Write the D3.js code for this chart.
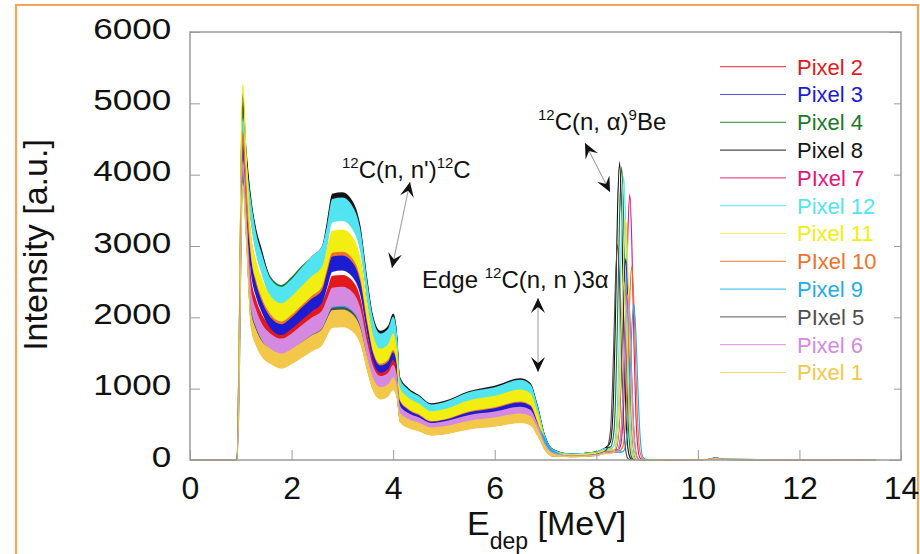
<!DOCTYPE html>
<html>
<head>
<meta charset="utf-8">
<script src="https://cdn.jsdelivr.net/npm/d3@7"></script>
<style>
  body { margin: 0; background: #fff; }
  svg { display: block; font-family: "Liberation Sans", Arial, sans-serif; }
</style>
</head>
<body>
<svg id="chart" width="920" height="554"></svg>
<script>
// deposited energy grid (MeV), shared by every pixel
var energy = [0, 0.92, 0.97, 1.01, 1.04, 1.1,
  1.2, 1.3, 1.4, 1.6, 1.8, 2.0, 2.2, 2.4, 2.6, 2.7, 2.8, 3.0, 3.2, 3.35, 3.5, 3.6, 3.75, 3.9, 4.0, 4.07,
  4.13, 4.3, 4.5, 4.75, 5.0, 5.5, 6.0, 6.5, 6.7, 6.85, 7.0, 7.15, 7.5, 8.0,
  8.2, 8.28, 8.34, 8.38, 8.42, 8.46, 8.50, 8.54, 8.58, 8.62, 8.66, 8.70, 8.74, 8.78, 8.82, 8.86, 8.92, 9.0, 9.15,
  9.5, 10.2, 10.35, 10.5, 11.5, 13.5];

// intensity per pixel [a.u.]
var pixel2 = [0, 0, 1400, 3700, 4350, 3600,
  2430, 2125, 1945, 1745, 1675, 1750, 1870, 1975, 2085, 2260, 2445, 2455, 2375, 2160, 1620, 1315, 1160, 1210, 1325, 1180,
  745, 635, 575, 495, 515, 610, 655, 720, 680, 475, 196, 84, 57, 78,
  120, 120, 120, 122, 140, 228, 537, 1237, 2089, 2450, 2009, 1127, 417, 108, 20, 8, 6, 4, 3,
  3, 6, 20, 6, 3, 1];
var pixel3 = [0, 0, 1450, 3750, 4400, 3700,
  2770, 2425, 2220, 1955, 1875, 1965, 2090, 2215, 2335, 2555, 2785, 2805, 2710, 2465, 1850, 1500, 1325, 1380, 1510, 1350,
  845, 725, 655, 560, 585, 695, 745, 825, 780, 540, 223, 96, 65, 89,
  130, 130, 132, 152, 253, 606, 1408, 2386, 2800, 2296, 1288, 476, 123, 22, 9, 7, 5, 4, 3,
  3, 6, 22, 7, 3, 1];
var pixel4 = [0, 0, 1700, 4200, 4950, 4200,
  3510, 3070, 2810, 2420, 2320, 2430, 2580, 2700, 2830, 3170, 3530, 3550, 3430, 3120, 2340, 1900, 1680, 1745, 1910, 1705,
  1070, 915, 830, 710, 740, 875, 945, 1045, 985, 680, 283, 122, 83, 112,
  170, 182, 350, 864, 2037, 3466, 4080, 3346, 1877, 694, 180, 33, 10, 8, 7, 6, 5, 4, 3,
  4, 8, 28, 9, 4, 2];
var pixel8 = [0, 0, 1800, 4300, 5100, 4300,
  3545, 3100, 2840, 2395, 2295, 2405, 2560, 2710, 2855, 3200, 3565, 3585, 3465, 3150, 2365, 1920, 1695, 1765, 1930, 1725,
  1085, 925, 835, 720, 750, 885, 955, 1055, 995, 690, 285, 123, 84, 113,
  180, 260, 886, 2090, 3550, 4150, 3403, 1909, 706, 183, 43, 10, 8, 8, 6, 5, 5, 4, 3,
  4, 8, 30, 10, 4, 2];
var pixel7 = [0, 0, 1500, 3900, 4600, 3900,
  3005, 2630, 2405, 2130, 2040, 2135, 2280, 2410, 2540, 2800, 3025, 3040, 2940, 2670, 2005, 1630, 1435, 1495, 1635, 1460,
  920, 785, 710, 610, 635, 750, 810, 895, 845, 585, 242, 104, 71, 96,
  140, 140, 140, 140, 144, 170, 303, 769, 1832, 3134, 3700, 3034, 1702, 629, 163, 30, 8, 5, 3,
  3, 7, 24, 8, 3, 1];
var pixel12 = [0, 0, 1650, 4000, 4750, 4100,
  3475, 3040, 2780, 2390, 2295, 2400, 2560, 2710, 2855, 3135, 3495, 3515, 3395, 3090, 2315, 1880, 1660, 1725, 1890, 1690,
  1060, 905, 820, 705, 735, 870, 935, 1035, 975, 675, 280, 121, 82, 111,
  160, 160, 192, 334, 832, 1967, 3339, 3950, 3239, 1817, 672, 174, 32, 12, 9, 8, 6, 5, 4,
  4, 8, 28, 9, 4, 2];
var pixel11 = [0, 0, 1900, 4500, 5250, 4300,
  3040, 2660, 2435, 2160, 2070, 2165, 2305, 2440, 2575, 2830, 3060, 3075, 2975, 2705, 2030, 1650, 1455, 1515, 1655, 1480,
  930, 795, 720, 615, 640, 760, 820, 905, 855, 590, 245, 106, 72, 97,
  140, 140, 143, 167, 287, 710, 1671, 2847, 3350, 2747, 1541, 570, 147, 27, 10, 8, 6, 5, 3,
  3, 7, 24, 8, 3, 1];
var pixel10 = [0, 0, 1500, 3850, 4550, 3850,
  2990, 2615, 2390, 2115, 2030, 2125, 2270, 2400, 2525, 2780, 3005, 3020, 2920, 2655, 1990, 1620, 1430, 1485, 1625, 1455,
  915, 780, 705, 605, 630, 745, 805, 890, 840, 580, 241, 104, 71, 95,
  130, 130, 130, 130, 130, 133, 152, 249, 589, 1362, 2304, 2700, 2214, 1242, 459, 119, 15, 5, 3,
  3, 7, 24, 8, 3, 1];
var pixel9 = [0, 0, 1000, 3300, 3950, 3300,
  2180, 1905, 1740, 1590, 1525, 1595, 1700, 1800, 1895, 2045, 2190, 2200, 2130, 1935, 1450, 1180, 1040, 1085, 1185, 1060,
  665, 570, 515, 440, 460, 545, 585, 645, 610, 440, 260, 110, 51, 70,
  110, 110, 110, 110, 110, 110, 112, 127, 205, 479, 1098, 1849, 2170, 1779, 998, 369, 41, 6, 3,
  3, 6, 20, 6, 3, 1];
var pixel5 = [0, 0, 1300, 3450, 4050, 3350,
  2000, 1750, 1600, 1465, 1405, 1470, 1570, 1655, 1745, 1885, 2010, 2020, 1955, 1775, 1330, 1080, 955, 995, 1090, 970,
  610, 520, 470, 405, 420, 500, 540, 595, 560, 390, 161, 69, 47, 64,
  143, 416, 1520, 2560, 3000, 2460, 1380, 510, 132, 24, 8, 6, 5, 5, 4, 4, 3, 3, 2,
  3, 6, 20, 6, 3, 1];
var pixel6 = [0, 0, 1100, 3500, 4150, 3450,
  2270, 1985, 1815, 1650, 1590, 1660, 1770, 1875, 1970, 2130, 2280, 2295, 2220, 2015, 1510, 1230, 1085, 1130, 1235, 1105,
  695, 590, 535, 460, 480, 565, 610, 675, 635, 440, 183, 79, 54, 72,
  110, 110, 110, 112, 128, 211, 501, 1158, 1956, 2300, 1886, 1058, 391, 101, 18, 7, 5, 4, 2,
  3, 6, 20, 6, 3, 1];
var pixel1 = [0, 0, 1200, 3300, 3850, 3250,
  1960, 1715, 1570, 1445, 1385, 1450, 1540, 1635, 1720, 1860, 1975, 1985, 1920, 1745, 1310, 1065, 935, 975, 1070, 955,
  600, 510, 465, 400, 415, 490, 530, 585, 550, 380, 158, 68, 46, 63,
  90, 90, 110, 200, 515, 1230, 2110, 2500, 2050, 1150, 425, 110, 20, 8, 6, 5, 4, 3, 2,
  3, 6, 18, 6, 3, 1];

var xTicks = [0, 2, 4, 6, 8, 10, 12, 14];
var yTicks = [0, 1000, 2000, 3000, 4000, 5000, 6000];

// legend order (as in the figure)
var legendNames = ["Pixel 2", "Pixel 3", "Pixel 4", "Pixel 8", "PIxel 7", "Pixel 12",
                   "Pixel 11", "PIxel 10", "Pixel 9", "PIxel 5", "Pixel 6", "Pixel 1"];
var legendValues = [pixel2, pixel3, pixel4, pixel8, pixel7, pixel12,
                    pixel11, pixel10, pixel9, pixel5, pixel6, pixel1];
var legendColors = ["#e3191c", "#1c1cd2", "#1b7a26", "#141414", "#e2167c", "#52e4f0",
                    "#f2ee12", "#f0712a", "#22ace6", "#4e4e4e", "#d48ae0", "#f3c84a"];
// painting order so the bands overlap like in the figure
var drawOrder = [4, 0, 2, 3, 5, 1, 7, 6, 8, 9, 10, 11];

var svg = d3.select("#chart"),
    margin = {top: 32, right: 19, bottom: 94, left: 190},
    width = 920 - margin.left - margin.right,
    height = 554 - margin.top - margin.bottom;

var x = d3.scaleLinear().domain([0, 14]).range([0, width]),
    y = d3.scaleLinear().domain([0, 6000]).range([height, 0]);

// orange slide border
svg.append("path")
    .attr("d", "M16,554V5H918V554")
    .attr("fill", "none")
    .attr("stroke", "#f6a457")
    .attr("stroke-width", 2.2);

var g = svg.append("g")
    .attr("transform", "translate(" + margin.left + "," + margin.top + ")");

g.append("clipPath").attr("id", "clip")
  .append("rect").attr("width", width).attr("height", height + 1);

// noise band half-width ~ sqrt(counts); continuum is far noisier than the peaks
function spread(e, v) {
  var k = (e > 1.05 && e < 7.3) ? 2.8 : 0.6;
  return k * Math.sqrt(Math.max(v, 0));
}

var area = d3.area()
    .x(function(d) { return x(d.e); })
    .y0(function(d) { return y(Math.max(0, d.v - spread(d.e, d.v))); })
    .y1(function(d) { return y(d.v + spread(d.e, d.v)); })
    .curve(d3.curveMonotoneX);

var line = d3.line()
    .x(function(d) { return x(d.e); })
    .y(function(d) { return y(d.v); })
    .curve(d3.curveMonotoneX);

var plot = g.append("g").attr("clip-path", "url(#clip)");

drawOrder.forEach(function(i) {
  var pts = energy.map(function(e, j) { return {e: e, v: legendValues[i][j]}; })
                  .filter(function(d) { return d.v != null; });
  plot.append("path")
      .attr("d", area(pts))
      .attr("fill", legendColors[i]);
  plot.append("path")
      .attr("d", line(pts))
      .attr("fill", "none")
      .attr("stroke", legendColors[i])
      .attr("stroke-width", 1.1);
});

// frame + inward ticks
g.append("rect")
    .attr("width", width).attr("height", height)
    .attr("fill", "none").attr("stroke", "#9a9a9a").attr("stroke-width", 1.5);

var yAxis = g.append("g")
    .attr("color", "#9a9a9a")
    .call(d3.axisLeft(y).tickValues(yTicks).tickFormat(d3.format("d"))
      .tickSizeInner(-10).tickSizeOuter(0).tickPadding(16));
yAxis.select(".domain").remove();
yAxis.selectAll("text")
    .attr("fill", "#111")
    .attr("font-size", 30)
    .attr("font-family", "'Liberation Sans', Arial, sans-serif")
    .attr("dy", "0.2em")
    .attr("transform", "scale(1.17,1)");

var yRight = g.append("g")
    .attr("color", "#9a9a9a")
    .attr("transform", "translate(" + width + ",0)")
    .call(d3.axisRight(y).tickValues(yTicks).tickSizeInner(-12).tickSizeOuter(0).tickFormat(""));
yRight.select(".domain").remove();

var xAxis = g.append("g")
    .attr("color", "#9a9a9a")
    .attr("transform", "translate(0," + height + ")")
    .call(d3.axisBottom(x).tickValues(xTicks).tickSizeInner(-10).tickSizeOuter(0).tickPadding(16));
xAxis.select(".domain").remove();
xAxis.selectAll("text")
    .attr("fill", "#111")
    .attr("font-size", 32)
    .attr("font-family", "'Liberation Sans', Arial, sans-serif");

// axis titles
var xt = svg.append("text")
    .attr("x", 467).attr("y", 535)
    .attr("font-size", 34).attr("fill", "#111");
xt.append("tspan").text("E");
xt.append("tspan").attr("font-size", 23).attr("dy", 14).text("dep");
xt.append("tspan").attr("dy", -14).text(" [MeV]");

svg.append("text")
    .attr("transform", "translate(47,245) rotate(-90)")
    .attr("text-anchor", "middle")
    .attr("font-size", 34)
    .attr("fill", "#111")
    .text("Intensity [a.u.]");

// legend
var legend = svg.append("g");
legend.append("rect")
    .attr("x", 712).attr("y", 52).attr("width", 182).attr("height", 338)
    .attr("fill", "#fff");
legendNames.forEach(function(name, i) {
  var ly = 66.7 + i * 27.8;
  legend.append("line")
      .attr("x1", 720).attr("x2", 786).attr("y1", ly).attr("y2", ly)
      .attr("stroke", legendColors[i]).attr("stroke-opacity", 0.75).attr("stroke-width", 1.2);
  legend.append("text")
      .attr("x", 797).attr("y", ly).attr("dy", "0.36em")
      .attr("font-size", 22)
      .attr("fill", legendColors[i])
      .text(name);
});

// annotations
function label(x0, y0, parts) {
  var t = svg.append("text").attr("x", x0).attr("y", y0).attr("font-size", 24).attr("fill", "#111");
  var up = false;
  parts.forEach(function(p) {
    var s = t.append("tspan").text(p.t);
    if (p.sup && !up) { s.attr("font-size", 15).attr("dy", -10); up = true; }
    else if (!p.sup && up) { s.attr("dy", 10); up = false; }
    else if (p.sup) { s.attr("font-size", 15); }
  });
}

function arrowHead(tx, ty, fx, fy) {
  var a = Math.atan2(ty - fy, tx - fx) * 180 / Math.PI;
  svg.append("path")
      .attr("d", "M0,0L-15,-7L-9,0L-15,7Z")
      .attr("transform", "translate(" + tx + "," + ty + ") rotate(" + a + ")")
      .attr("fill", "#111");
}

function doubleArrow(x1, y1, x2, y2) {
  svg.append("line")
      .attr("x1", x1).attr("y1", y1).attr("x2", x2).attr("y2", y2)
      .attr("stroke", "#a0a0a0").attr("stroke-width", 1.1);
  arrowHead(x1, y1, x2, y2);
  arrowHead(x2, y2, x1, y1);
}

label(342, 178, [{t: "12", sup: true}, {t: "C(n, n')"}, {t: "12", sup: true}, {t: "C"}]);
doubleArrow(410, 182, 392, 268);

label(422, 288, [{t: "Edge "}, {t: "12", sup: true}, {t: "C(n, n )3\u03b1"}]);
doubleArrow(538, 298, 538, 372);

label(538, 130, [{t: "12", sup: true}, {t: "C(n, \u03b1)"}, {t: "9", sup: true}, {t: "Be"}]);
doubleArrow(585, 143, 610, 192);
</script>
</body>
</html>
